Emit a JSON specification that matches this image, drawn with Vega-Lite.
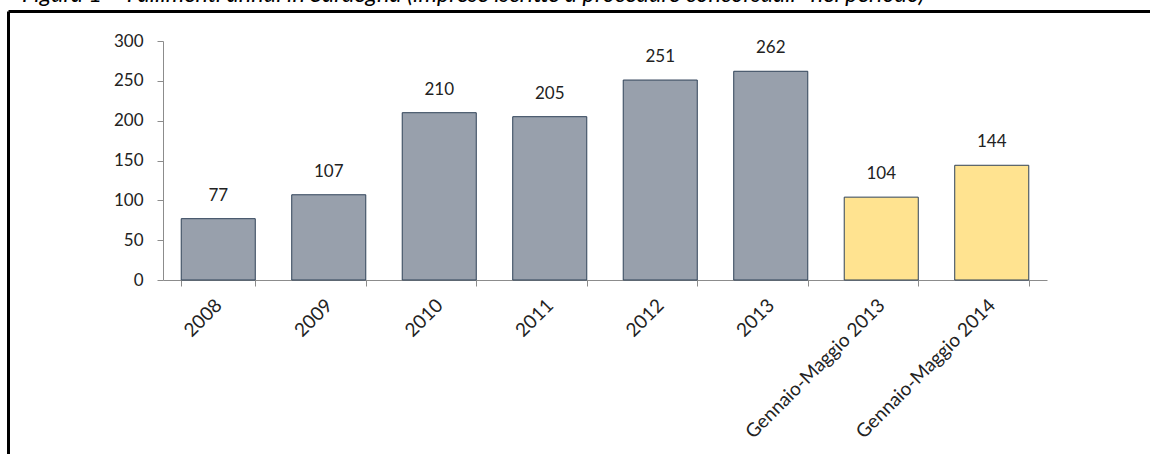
{
  "$schema": "https://vega.github.io/schema/vega-lite/v6.json",
  "autosize": "none",
  "width": 1142,
  "height": 443,
  "padding": {"left": 8, "top": 11, "right": 0, "bottom": 0},
  "background": "white",
  "config": {
    "view": {"stroke": null},
    "font": "Lato"
  },
  "title": {
    "text": "Figura 1 – Fallimenti annui in Sardegna (imprese iscritte a procedure concorsuali* nel periodo)",
    "anchor": "start",
    "frame": "group",
    "orient": "top",
    "offset": 0,
    "baseline": "alphabetic",
    "dx": 14,
    "dy": 14,
    "font": "Lato",
    "fontStyle": "italic",
    "fontWeight": "normal",
    "fontSize": 23.5,
    "color": "black"
  },
  "data": {
    "values": [
      {"periodo": "2008", "valore": 77, "tipo": "anno"},
      {"periodo": "2009", "valore": 107, "tipo": "anno"},
      {"periodo": "2010", "valore": 210, "tipo": "anno"},
      {"periodo": "2011", "valore": 205, "tipo": "anno"},
      {"periodo": "2012", "valore": 251, "tipo": "anno"},
      {"periodo": "2013", "valore": 262, "tipo": "anno"},
      {"periodo": "Gennaio-Maggio 2013", "valore": 104, "tipo": "parziale"},
      {"periodo": "Gennaio-Maggio 2014", "valore": 144, "tipo": "parziale"}
    ]
  },
  "resolve": {
    "scale": {"x": "independent", "y": "independent"},
    "axis": {"x": "independent", "y": "independent"}
  },
  "layer": [
    {
      "layer": [
        {
          "mark": {"type": "bar", "stroke": "#2f4258", "strokeWidth": 1},
          "encoding": {
            "color": {
              "field": "tipo",
              "type": "nominal",
              "scale": {"domain": ["anno", "parziale"], "range": ["#98a0ac", "#ffe390"]},
              "legend": null
            }
          }
        },
        {
          "mark": {"type": "text", "baseline": "alphabetic", "dy": -18, "fontSize": 17, "color": "#222", "font": "Lato"},
          "encoding": {"text": {"field": "valore", "type": "quantitative"}}
        }
      ],
      "encoding": {
        "x": {
          "field": "periodo",
          "type": "nominal",
          "sort": null,
          "scale": {"range": [155, 1039], "paddingInner": 0.33, "paddingOuter": 0.165},
          "axis": {
            "title": null,
            "orient": "bottom",
            "offset": -174,
            "labelAngle": -45,
            "labelAlign": "right",
            "labelBaseline": "middle",
            "labelFontSize": 19,
            "labelLimit": 400,
            "labelColor": "#222",
            "labelPadding": 16,
            "tickBand": "extent",
            "tickSize": 6,
            "tickColor": "#8c8c8c",
            "domainColor": "#8c8c8c",
            "grid": false
          }
        },
        "y": {
          "field": "valore",
          "type": "quantitative",
          "scale": {"domain": [0, 300], "range": [269, 30], "nice": false},
          "axis": {
            "title": null,
            "orient": "left",
            "offset": -155,
            "values": [0, 50, 100, 150, 200, 250, 300],
            "labelFontSize": 17,
            "labelColor": "#222",
            "labelPadding": 14,
            "tickSize": 6,
            "tickColor": "#8c8c8c",
            "domainColor": "#8c8c8c",
            "grid": false
          }
        }
      }
    },
    {
      "mark": {"type": "point", "opacity": 0},
      "encoding": {
        "x": {
          "field": "periodo",
          "type": "nominal",
          "sort": null,
          "scale": {"range": [0, 1300]},
          "axis": {"orient": "top", "title": null, "labels": false, "ticks": false, "grid": false, "domainColor": "black", "domainWidth": 3, "offset": 0}
        },
        "y": {
          "field": "valore",
          "type": "quantitative",
          "scale": {"range": [900, 0]},
          "axis": {"orient": "left", "title": null, "labels": false, "ticks": false, "grid": false, "domainColor": "black", "domainWidth": 3, "offset": 0}
        }
      }
    }
  ]
}
